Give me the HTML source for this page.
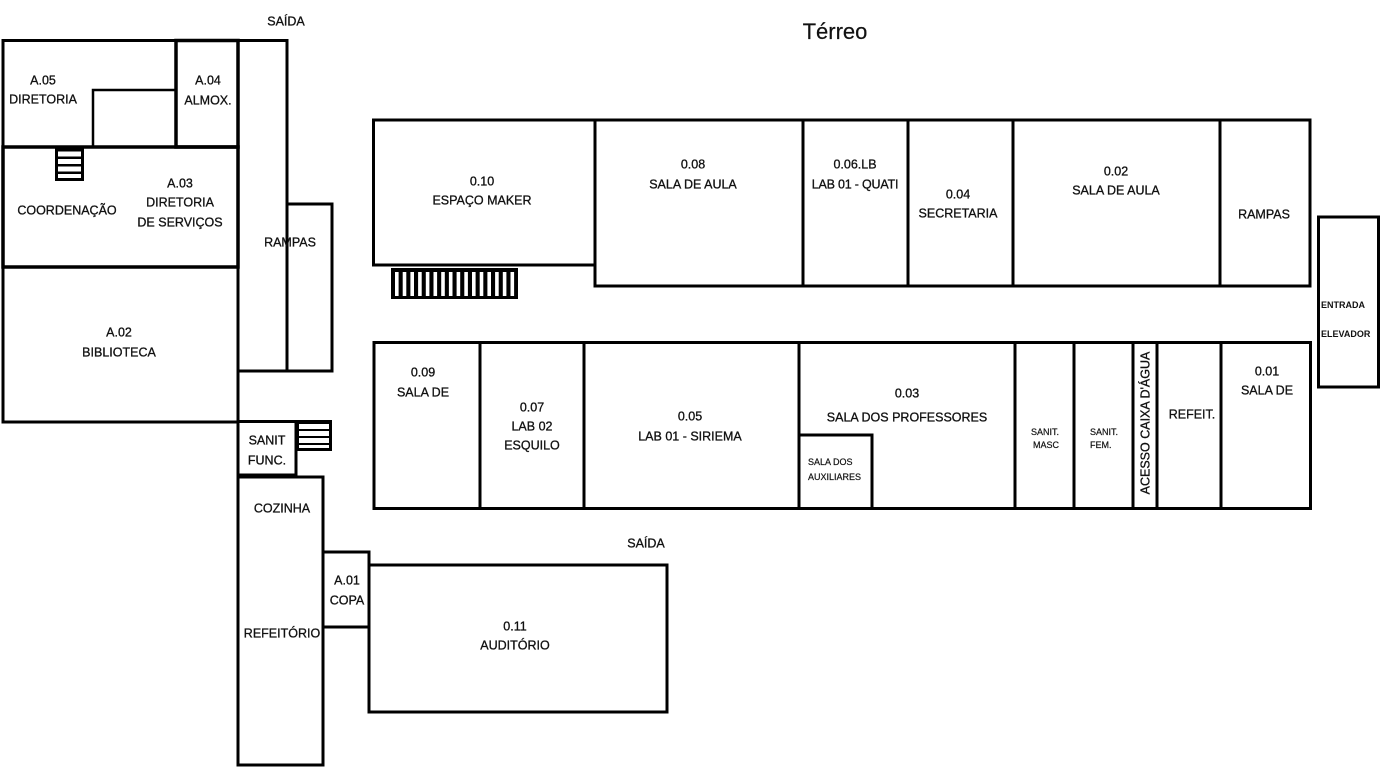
<!DOCTYPE html>
<html>
<head>
<meta charset="utf-8">
<style>
  html,body{margin:0;padding:0;background:#fff;}
  svg{display:block;}
  text{font-family:"Liberation Sans",Arial,sans-serif;fill:#111;}
  .t{font-size:12.5px;text-anchor:middle;stroke:#111;stroke-width:0.3px;}
  .s{font-size:9px;stroke:#111;stroke-width:0.2px;}
  .sb{font-size:9px;font-weight:bold;}
</style>
</head>
<body>
<svg width="1386" height="780" viewBox="0 0 1386 780" xmlns="http://www.w3.org/2000/svg">
  <g fill="none" stroke="#000" stroke-width="3">
    <!-- Left block -->
    <rect x="3" y="40.5" width="173" height="106.5"/>
    <rect x="176" y="40.5" width="62" height="106.5" stroke-width="3.5"/>
    <polyline points="93,147 93,90 176,90" stroke-width="2.5"/>
    <rect x="3" y="147" width="235" height="120" stroke-width="3.5"/>
    <rect x="3" y="267" width="235" height="155"/>
    <!-- Rampas column -->
    <rect x="238" y="40.5" width="49" height="330.5"/>
    <rect x="287" y="204" width="45" height="167"/>
    <!-- Sanit func -->
    <rect x="238" y="421.5" width="58" height="53.5"/>
    <!-- Cozinha -->
    <rect x="238" y="477" width="85" height="288"/>
    <!-- Copa -->
    <rect x="323" y="552" width="46" height="75"/>
    <!-- Auditorio -->
    <rect x="369" y="565" width="298" height="147"/>
    <!-- Top row -->
    <rect x="373.5" y="120" width="221.5" height="145"/>
    <rect x="595" y="120" width="208" height="166"/>
    <rect x="803" y="120" width="105" height="166"/>
    <rect x="908" y="120" width="105" height="166"/>
    <rect x="1013" y="120" width="207" height="166"/>
    <rect x="1220" y="120" width="90" height="166"/>
    <!-- Elevator -->
    <rect x="1318.5" y="217" width="60" height="170"/>
    <!-- Bottom row -->
    <rect x="374" y="342.5" width="106" height="166"/>
    <rect x="480" y="342.5" width="104" height="166"/>
    <rect x="584" y="342.5" width="215" height="166"/>
    <rect x="799" y="342.5" width="216" height="166"/>
    <rect x="1015" y="342.5" width="59" height="166"/>
    <rect x="1074" y="342.5" width="59" height="166"/>
    <rect x="1133" y="342.5" width="24" height="166"/>
    <rect x="1157" y="342.5" width="64" height="166"/>
    <rect x="1221" y="342.5" width="89.5" height="166"/>
    <rect x="799" y="435" width="73" height="73.5"/>
  </g>

  <!-- Stairs under maker -->
  <rect x="391" y="268" width="127" height="31" fill="#000"/>
  <g fill="#fff">
    <rect x="395" y="272" width="3.6" height="24"/>
    <rect x="402.7" y="272" width="3.6" height="24"/>
    <rect x="410.4" y="272" width="3.6" height="24"/>
    <rect x="418.1" y="272" width="3.6" height="24"/>
    <rect x="425.8" y="272" width="3.6" height="24"/>
    <rect x="433.5" y="272" width="3.6" height="24"/>
    <rect x="441.2" y="272" width="3.6" height="24"/>
    <rect x="448.9" y="272" width="3.6" height="24"/>
    <rect x="456.6" y="272" width="3.6" height="24"/>
    <rect x="464.3" y="272" width="3.6" height="24"/>
    <rect x="472" y="272" width="3.6" height="24"/>
    <rect x="479.7" y="272" width="3.6" height="24"/>
    <rect x="487.4" y="272" width="3.6" height="24"/>
    <rect x="495.1" y="272" width="3.6" height="24"/>
    <rect x="502.8" y="272" width="3.6" height="24"/>
    <rect x="510.5" y="272" width="3.6" height="24"/>
  </g>

  <!-- Stairs in A.03 -->
  <rect x="55" y="147" width="29" height="34" fill="#000"/>
  <g fill="#fff">
    <rect x="58" y="151.5" width="23" height="5"/>
    <rect x="58" y="159" width="23" height="5"/>
    <rect x="58" y="166.5" width="23" height="5"/>
    <rect x="58" y="174" width="23" height="4"/>
  </g>

  <!-- Stairs near sanit -->
  <rect x="296" y="420" width="36" height="31" fill="#000"/>
  <g fill="#fff">
    <rect x="299" y="424" width="30" height="5"/>
    <rect x="299" y="431" width="30" height="5"/>
    <rect x="299" y="438" width="30" height="5"/>
    <rect x="299" y="445" width="30" height="3"/>
  </g>

  <!-- Texts -->
  <text x="835" y="39" style="font-size:22px;text-anchor:middle;stroke:#111;stroke-width:0.2px;">Térreo</text>
  <text class="t" x="286" y="25.5">SAÍDA</text>
  <text class="t" x="646" y="547.5">SAÍDA</text>

  <text class="t" x="43" y="84.5">A.05</text>
  <text class="t" x="43" y="103.5">DIRETORIA</text>
  <text class="t" x="208" y="84.5">A.04</text>
  <text class="t" x="208" y="104.5">ALMOX.</text>

  <text class="t" x="67" y="214.5">COORDENAÇÃO</text>
  <text class="t" x="180" y="187.5">A.03</text>
  <text class="t" x="180" y="206.5">DIRETORIA</text>
  <text class="t" x="180" y="226.5">DE SERVIÇOS</text>

  <text class="t" x="290" y="246.5">RAMPAS</text>

  <text class="t" x="119" y="336.5">A.02</text>
  <text class="t" x="119" y="356.5">BIBLIOTECA</text>

  <text class="t" x="267" y="444.5">SANIT</text>
  <text class="t" x="267" y="464.5">FUNC.</text>

  <text class="t" x="282" y="512.5">COZINHA</text>
  <text class="t" x="282" y="637.5">REFEITÓRIO</text>

  <text class="t" x="347" y="584.5">A.01</text>
  <text class="t" x="347" y="604.5">COPA</text>

  <text class="t" x="515" y="630.5">0.11</text>
  <text class="t" x="515" y="649.5">AUDITÓRIO</text>

  <text class="t" x="482" y="185.5">0.10</text>
  <text class="t" x="482" y="204.5">ESPAÇO MAKER</text>
  <text class="t" x="693" y="168.5">0.08</text>
  <text class="t" x="693" y="188.5">SALA DE AULA</text>
  <text class="t" x="855" y="168.5">0.06.LB</text>
  <text class="t" x="855" y="188.5" style="letter-spacing:-0.2px">LAB 01 - QUATI</text>
  <text class="t" x="958" y="198.5">0.04</text>
  <text class="t" x="958" y="217.5">SECRETARIA</text>
  <text class="t" x="1116" y="175.5">0.02</text>
  <text class="t" x="1116" y="194.5">SALA DE AULA</text>
  <text class="t" x="1264" y="218.5">RAMPAS</text>

  <text class="sb" x="1321" y="308">ENTRADA</text>
  <text class="sb" x="1321" y="337">ELEVADOR</text>

  <text class="t" x="423" y="376.5">0.09</text>
  <text class="t" x="423" y="396.5">SALA DE</text>
  <text class="t" x="532" y="411.5">0.07</text>
  <text class="t" x="532" y="430.5">LAB 02</text>
  <text class="t" x="532" y="449.5">ESQUILO</text>
  <text class="t" x="690" y="420.5">0.05</text>
  <text class="t" x="690" y="440.5">LAB 01 - SIRIEMA</text>
  <text class="t" x="907" y="397.5">0.03</text>
  <text class="t" x="907" y="421.5">SALA DOS PROFESSORES</text>
  <text class="s" x="808" y="465">SALA DOS</text>
  <text class="s" x="808" y="480">AUXILIARES</text>
  <text class="s" x="1031" y="435">SANIT.</text>
  <text class="s" x="1033" y="448">MASC</text>
  <text class="s" x="1090" y="435">SANIT.</text>
  <text class="s" x="1090" y="448">FEM.</text>
  <text class="t" transform="translate(1149.5,423) rotate(-90)" x="0" y="0">ACESSO CAIXA D'ÁGUA</text>
  <text class="t" x="1192" y="418.5">REFEIT.</text>
  <text class="t" x="1267" y="375.5">0.01</text>
  <text class="t" x="1267" y="394.5">SALA DE</text>
</svg>
</body>
</html>
